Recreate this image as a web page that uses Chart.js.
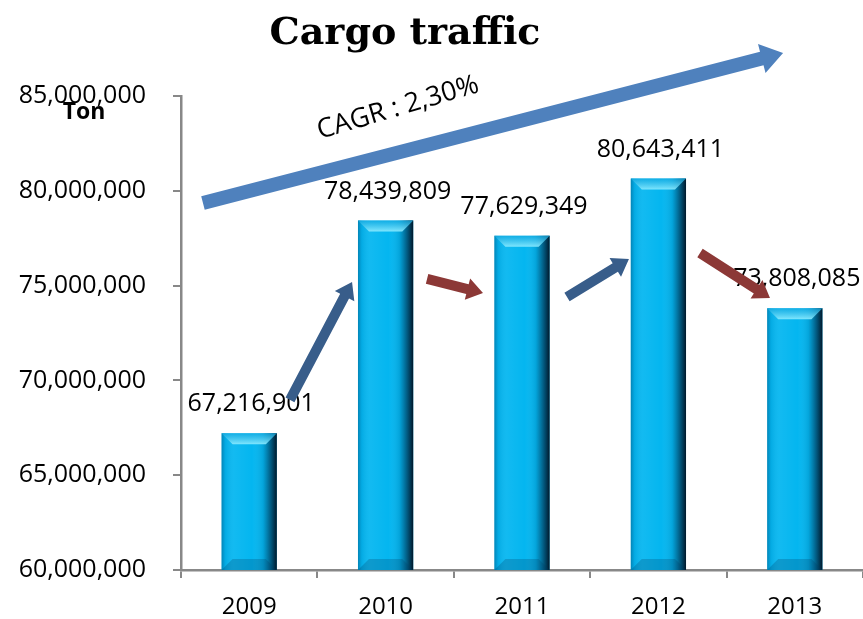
<!DOCTYPE html>
<html><head><meta charset="utf-8">
<script src="https://cdn.jsdelivr.net/npm/chart.js@4/dist/chart.umd.min.js"></script>
<style>html,body{margin:0;padding:0;background:#fff;overflow:hidden}#wrap{position:relative;width:863px;height:619px}</style>
</head><body><div id="wrap"><canvas id="c" width="863" height="619"></canvas></div>
<script>
// ---- data ----
const categories = ['2009', '2010', '2011', '2012', '2013'];
const cargoTon = [67216901, 78439809, 77629349, 80643411, 73808085];
const yMin = 60000000;
const yMax = 85000000;
const yStep = 5000000;
const titleText = 'Cargo traffic';
const unitText = 'Ton';
const cagrText = 'CAGR : 2,30%';
// trend arrows expressed in data space: [fromIndex, fromValue, toIndex, toValue]
const upArrows = [[0.299, 68970000, 0.754, 75190000], [2.330, 74400000, 2.784, 76400000]];
const downArrows = [[1.304, 75350000, 1.714, 74610000], [3.305, 76720000, 3.818, 74350000]];
const cagrArrow = [-0.339, 79360000, 3.914, 87270000];

const FONT = "'Open Sans', 'Noto Sans', sans-serif";
const fmt = v => v.toLocaleString('en-US');

function arrow(ctx, x1, y1, x2, y2, sw, hw, hl, color) {
  const dx = x2 - x1, dy = y2 - y1, len = Math.hypot(dx, dy);
  const ux = dx / len, uy = dy / len, px = -uy, py = ux;
  const bx = x2 - ux * hl, by = y2 - uy * hl;
  ctx.beginPath();
  ctx.moveTo(x1 + px * sw / 2, y1 + py * sw / 2);
  ctx.lineTo(bx + px * sw / 2, by + py * sw / 2);
  ctx.lineTo(bx + px * hw / 2, by + py * hw / 2);
  ctx.lineTo(x2, y2);
  ctx.lineTo(bx - px * hw / 2, by - py * hw / 2);
  ctx.lineTo(bx - px * sw / 2, by - py * sw / 2);
  ctx.lineTo(x1 - px * sw / 2, y1 - py * sw / 2);
  ctx.closePath();
  ctx.fillStyle = color;
  ctx.fill();
}

const decor = {
  id: 'decor',
  afterDatasetsDraw(chart) {
    const ctx = chart.ctx, area = chart.chartArea;
    const meta = chart.getDatasetMeta(0);
    meta.data.forEach((bar, i) => {
      const p = bar.getProps(['x', 'y', 'base', 'width'], true);
      const l = p.x - p.width / 2, r = p.x + p.width / 2, t = p.y, b = Math.min(p.base, area.bottom), w = p.width, h = b - t;
      ctx.save();
      ctx.beginPath();
      ctx.rect(area.left, area.top, area.right - area.left, area.bottom - area.top);
      ctx.clip();
      const g = ctx.createLinearGradient(l, 0, r, 0);
      g.addColorStop(0, 'rgba(0,70,110,0.45)');
      g.addColorStop(0.07, 'rgba(0,90,140,0.12)');
      g.addColorStop(0.22, 'rgba(255,255,255,0.06)');
      g.addColorStop(0.55, 'rgba(255,255,255,0)');
      g.addColorStop(0.75, 'rgba(0,40,70,0.12)');
      g.addColorStop(0.88, 'rgba(0,25,50,0.55)');
      g.addColorStop(1, 'rgba(0,10,25,0.92)');
      ctx.fillStyle = g;
      ctx.fillRect(l, t, w, h);
      const bv = 11;
      ctx.beginPath();
      ctx.moveTo(l, t); ctx.lineTo(r, t); ctx.lineTo(r - bv, t + bv); ctx.lineTo(l + bv, t + bv); ctx.closePath();
      const g2 = ctx.createLinearGradient(0, t, 0, t + bv);
      g2.addColorStop(0, 'rgba(20,170,225,0.7)');
      g2.addColorStop(1, 'rgba(140,235,255,0.9)');
      ctx.fillStyle = g2;
      ctx.fill();
      ctx.beginPath();
      ctx.moveTo(l, b); ctx.lineTo(r, b); ctx.lineTo(r - bv, b - bv); ctx.lineTo(l + bv, b - bv); ctx.closePath();
      ctx.fillStyle = 'rgba(0,60,100,0.25)';
      ctx.fill();
      ctx.restore();
      // value label
      ctx.save();
      ctx.font = '25px ' + FONT;
      ctx.fillStyle = '#000';
      ctx.textAlign = 'center';
      ctx.textBaseline = 'middle';
      ctx.fillText(fmt(cargoTon[i]), p.x + 2, t - 29);
      ctx.restore();
    });
  },
  afterDraw(chart) {
    const ctx = chart.ctx, xs = chart.scales.x, ys = chart.scales.y;
    const P = (i, v) => [xs.getPixelForValue(0) + i * (xs.getPixelForValue(1) - xs.getPixelForValue(0)), ys.getPixelForValue(v)];
    ctx.save();
    // CAGR arrow
    let a = P(cagrArrow[0], cagrArrow[1]), c = P(cagrArrow[2], cagrArrow[3]);
    arrow(ctx, a[0], a[1], c[0], c[1], 14, 30, 22, '#4f81bd');
    upArrows.forEach(d => {
      const s = P(d[0], d[1]), e = P(d[2], d[3]);
      arrow(ctx, s[0], s[1], e[0], e[1], 10, 22, 16, '#385d8a');
    });
    downArrows.forEach(d => {
      const s = P(d[0], d[1]), e = P(d[2], d[3]);
      arrow(ctx, s[0], s[1], e[0], e[1], 10, 22, 16, '#8c3836');
    });
    // title
    ctx.fillStyle = '#000';
    ctx.textAlign = 'center';
    ctx.textBaseline = 'alphabetic';
    ctx.font = "bold 38px 'DejaVu Serif', serif";
    ctx.fillText(titleText, 405, 44);
    // unit
    ctx.font = 'bold 23px ' + FONT;
    ctx.textBaseline = 'middle';
    ctx.fillText(unitText, 84, 112);
    // CAGR text
    ctx.translate(398, 108);
    ctx.rotate(-16.5 * Math.PI / 180);
    ctx.font = '27px ' + FONT;
    ctx.fillText(cagrText, 0, 0);
    ctx.restore();
  }
};

new Chart(document.getElementById('c'), {
  type: 'bar',
  data: {
    labels: categories,
    datasets: [{
      data: cargoTon,
      backgroundColor: '#04b6f0',
      borderWidth: 0,
      barPercentage: 0.405,
      categoryPercentage: 1
    }]
  },
  options: {
    responsive: false,
    animation: false,
    devicePixelRatio: 1,
    layout: { padding: { top: 96, right: 0, bottom: 0, left: 0 } },
    plugins: { legend: { display: false }, tooltip: { enabled: false }, title: { display: false } },
    scales: {
      x: {
        grid: { drawOnChartArea: false, drawTicks: true, tickLength: 8, color: '#888', lineWidth: 2, offset: true },
        border: { color: '#888', width: 2.5 },
        ticks: { color: '#000', font: { family: FONT, size: 24 }, padding: 15, maxRotation: 0 },
        afterFit: s => { s.height = 49; }
      },
      y: {
        min: yMin, max: yMax,
        grid: { drawOnChartArea: false, drawTicks: true, tickLength: 8, color: '#888', lineWidth: 2 },
        border: { color: '#888', width: 2.5 },
        ticks: { stepSize: yStep, color: '#000', font: { family: FONT, size: 25 }, padding: 27, callback: v => fmt(v) },
        afterFit: s => { s.width = 181; }
      }
    }
  },
  plugins: [decor]
});
</script></body></html>
